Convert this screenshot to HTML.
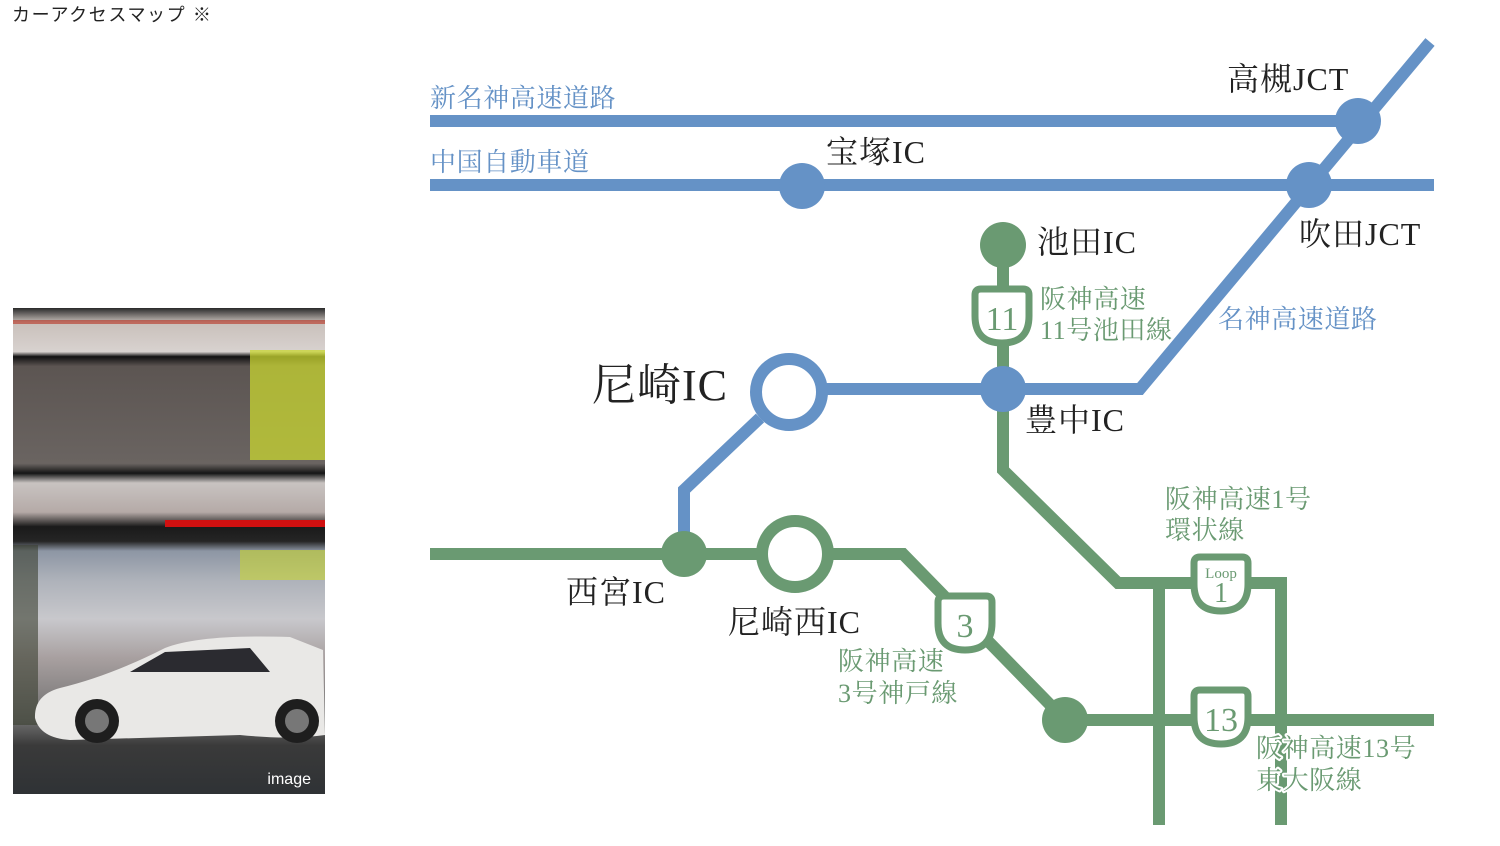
<!DOCTYPE html>
<html><head><meta charset="utf-8"><style>
html,body{margin:0;padding:0;background:#fff;width:1500px;height:846px;overflow:hidden}
svg{position:absolute;left:0;top:0}
.s{font-family:"Liberation Serif","Noto Serif CJK SC",serif}
</style></head><body>
<svg width="1500" height="846" viewBox="0 0 1500 846" xmlns="http://www.w3.org/2000/svg">
<defs>
<linearGradient id="bg" x1="0" y1="0" x2="0" y2="1">
<stop offset="0" stop-color="#2a2a2a"/><stop offset="0.03" stop-color="#c9c0bb"/>
<stop offset="0.09" stop-color="#d8d2cf"/><stop offset="0.1" stop-color="#111"/>
<stop offset="0.12" stop-color="#5c5552"/><stop offset="0.32" stop-color="#6a6461"/>
<stop offset="0.34" stop-color="#151515"/><stop offset="0.36" stop-color="#c8c3c1"/>
<stop offset="0.42" stop-color="#b5aaa7"/><stop offset="0.45" stop-color="#1a1a1a"/>
<stop offset="0.48" stop-color="#252525"/><stop offset="0.5" stop-color="#8d96a4"/>
<stop offset="0.56" stop-color="#aeb2ba"/><stop offset="0.64" stop-color="#c8c8cc"/>
<stop offset="0.72" stop-color="#a8a0a0"/><stop offset="0.85" stop-color="#6e6e6e"/>
<stop offset="0.9" stop-color="#3a3a3a"/><stop offset="1" stop-color="#2f3235"/>
</linearGradient>
<path id="sh" d="M-21,-27 H21 Q27,-27 27,-21 V0 Q27,27 0,27 Q-27,27 -27,0 V-21 Q-27,-27 -21,-27Z"/>
</defs>
<text x="12" y="21" font-family="Liberation Sans,'Noto Sans CJK JP',sans-serif" font-size="18" letter-spacing="1.6" fill="#222">カーアクセスマップ ※</text>

<!-- photo -->
<rect x="13" y="308" width="312" height="486" fill="url(#bg)"/>
<rect x="13" y="320" width="312" height="4" fill="#b83020" opacity="0.6"/>
<rect x="250" y="350" width="75" height="110" fill="#c8d630" opacity="0.75"/>
<rect x="165" y="520" width="160" height="7" fill="#d01010"/>
<rect x="240" y="550" width="85" height="30" fill="#c8d630" opacity="0.6"/>
<rect x="13" y="545" width="25" height="180" fill="#3a3f30" opacity="0.6"/>
<path d="M35,718 Q34,695 60,688 Q110,676 165,648 Q200,634 290,637 L323,650 L325,735 Q290,740 240,735 L70,740 Q40,738 35,718Z" fill="#e9e8e6"/>
<path d="M130,672 L165,652 L250,648 L270,672Z" fill="#2b2b30"/>
<circle cx="97" cy="721" r="22" fill="#1e1e1e"/><circle cx="97" cy="721" r="12" fill="#777"/>
<circle cx="297" cy="721" r="22" fill="#1e1e1e"/><circle cx="297" cy="721" r="12" fill="#777"/>
<text x="311" y="784" text-anchor="end" font-family="Liberation Sans,sans-serif" font-size="16" fill="#fff">image</text>

<g fill="none" stroke-width="12" stroke-linejoin="miter">
<g stroke="#6592c6">
<line x1="430" y1="121" x2="1370" y2="121"/>
<line x1="430" y1="185" x2="1434" y2="185"/>
<polyline points="1430,42 1140,389 790,389"/>
<polyline points="760,418 684,490 684,540"/>
</g>
<g stroke="#6a9a72">
<polyline points="1003,245 1003,470 1118,583 1281,583 1281,825"/>
<line x1="1159" y1="583" x2="1159" y2="825"/>
<polyline points="430,554 903,554 1065,720 1434,720"/>
</g>
</g>
<g fill="#6592c6">
<circle cx="1358" cy="121" r="23"/><circle cx="1309" cy="185" r="23"/>
<circle cx="802" cy="186" r="23"/><circle cx="1003" cy="389" r="23"/>
</g>
<circle cx="789" cy="392" r="33" fill="#fff" stroke="#6592c6" stroke-width="12"/>
<g fill="#6a9a72">
<circle cx="1003" cy="245" r="23"/><circle cx="684" cy="554" r="23"/><circle cx="1065" cy="720" r="23"/>
</g>
<circle cx="795" cy="554" r="33" fill="#fff" stroke="#6a9a72" stroke-width="12"/>
<g fill="#fff" stroke="#6a9a72" stroke-width="7">
<use href="#sh" x="1002" y="316"/><use href="#sh" x="965" y="623"/>
<use href="#sh" x="1221" y="584"/><use href="#sh" x="1221" y="717"/>
</g>
<g class="s" fill="#6a9a72" text-anchor="middle">
<text x="1002" y="330" font-size="34">11</text>
<text x="965" y="637" font-size="34">3</text>
<text x="1221" y="578" font-size="15">Loop</text>
<text x="1221" y="602" font-size="28">1</text>
<text x="1221" y="731" font-size="34">13</text>
</g>
<g class="s" fill="#222" letter-spacing="1">
<text x="1227" y="90" font-size="32">高槻JCT</text>
<text x="826" y="163" font-size="32">宝塚IC</text>
<text x="1299" y="245" font-size="32">吹田JCT</text>
<text x="1037" y="253" font-size="32">池田IC</text>
<text x="592" y="400" font-size="44">尼崎IC</text>
<text x="1025" y="431" font-size="32">豊中IC</text>
<text x="566" y="603" font-size="32">西宮IC</text>
<text x="728" y="633" font-size="32">尼崎西IC</text>
</g>
<g class="s" font-size="26" letter-spacing="0.6">
<text x="430" y="107" fill="#6592c6">新名神高速道路</text>
<text x="430" y="171" fill="#6592c6">中国自動車道</text>
<text x="1218" y="328" fill="#6592c6">名神高速道路</text>
<g fill="#6a9a72" stroke="#fff" stroke-width="4" paint-order="stroke" stroke-linejoin="round">
<text x="1040" y="308">阪神高速</text><text x="1040" y="339">11号池田線</text>
<text x="1165" y="508">阪神高速1号</text><text x="1165" y="539">環状線</text>
<text x="838" y="670">阪神高速</text><text x="838" y="702">3号神戸線</text>
<text x="1256" y="757">阪神高速13号</text><text x="1256" y="789">東大阪線</text>
</g>
</g>
</svg>
</body></html>
